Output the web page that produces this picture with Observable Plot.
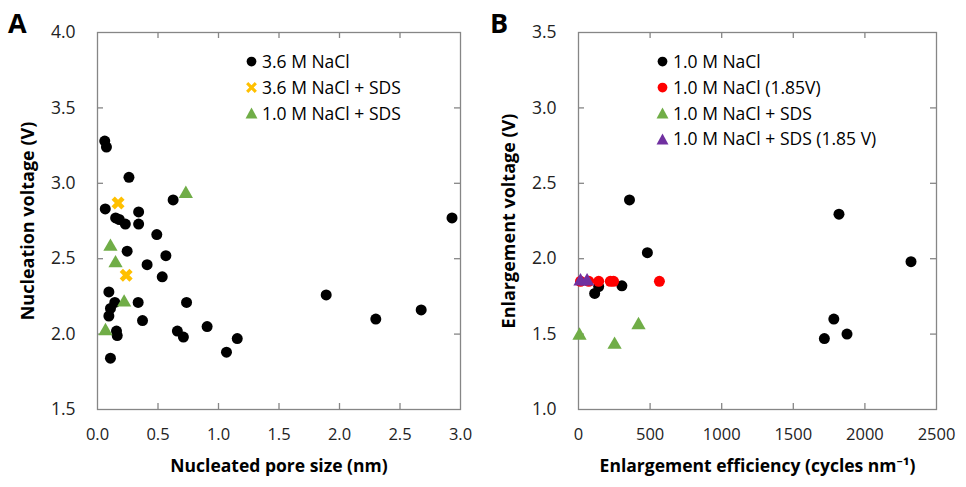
<!DOCTYPE html>
<html>
<head>
<meta charset="utf-8">
<script src="https://cdn.jsdelivr.net/npm/d3@7"></script>
<script src="https://cdn.jsdelivr.net/npm/@observablehq/plot@0.6"></script>
<style>
  body { margin: 0; background: #fff; }
  #wrap { position: relative; width: 966px; height: 487px; font-family: "Open Sans", "Noto Sans", sans-serif; }
  .panel { position: absolute; top: 0; }
  .plabel { position: absolute; top: 4px; font: bold 27px "Open Sans", sans-serif; color: #000; }
  .legend { position: absolute; font-size: 17.5px; color: #000; line-height: 25.8px; }
  .legend div { display: flex; align-items: center; white-space: nowrap; }
  .legend svg { width: 13px; height: 13px; margin-right: 4px; }
</style>
</head>
<body>
<div id="wrap"></div>
<script>
// ---------- Panel A data ----------
const aNaClX = [0.06,0.074,0.26,0.625,0.064,0.34,0.15,0.18,0.23,0.34,0.49,0.245,0.565,0.41,0.535,0.094,0.143,0.336,0.736,0.107,0.094,0.372,0.157,0.163,0.66,0.71,0.906,1.066,0.107,1.155,1.89,2.30,2.675,2.93];
const aNaClY = [3.28,3.24,3.04,2.89,2.83,2.81,2.77,2.76,2.73,2.73,2.66,2.55,2.52,2.46,2.38,2.28,2.21,2.21,2.21,2.17,2.12,2.09,2.02,1.99,2.02,1.98,2.05,1.88,1.84,1.97,2.26,2.10,2.16,2.77];
const aSdsX = [0.17,0.237];
const aSdsY = [2.87,2.39];
const aLowX = [0.73,0.107,0.149,0.22,0.066];
const aLowY = [2.93,2.58,2.47,2.21,2.02];
const aXTicks = [0,0.5,1,1.5,2,2.5,3];
const aYTicks = [1.5,2,2.5,3,3.5,4];

// ---------- Panel B data ----------
const bNaClX = [356,481,303,113,141,1819,2322,1783,1717,1875];
const bNaClY = [2.39,2.04,1.82,1.77,1.815,2.295,1.98,1.60,1.47,1.50];
const bNaCl185X = [14,72,141,222,245,565];
const bNaCl185Y = [1.85,1.85,1.85,1.85,1.85,1.85];
const bSdsX = [7,252,419];
const bSdsY = [1.49,1.43,1.56];
const bSds185X = [14,60];
const bSds185Y = [1.85,1.85];
const bXTicks = [0,500,1000,1500,2000,2500];
const bYTicks = [1,1.5,2,2.5,3,3.5];

const legendA = ["3.6 M NaCl","3.6 M NaCl + SDS","1.0 M NaCl + SDS"];
const legendB = ["1.0 M NaCl","1.0 M NaCl (1.85V)","1.0 M NaCl + SDS","1.0 M NaCl + SDS (1.85 V)"];

const BLACK = "#000000", ORANGE = "#FFC000", GREEN = "#70AD47", RED = "#FF0000", PURPLE = "#7030A0";
const FRAME = "#868686";
const zip = (xs, ys) => xs.map((x, i) => ({x, y: ys[i]}));

function panel({xDomain, yDomain, xTicks, yTicks, xFormat, series, xLabel, yLabel, mLeft, mRight}) {
  const W = 483, H = 487, mTop = 32, mBottom = 78;
  const innerH = H - mTop - mBottom, innerW = W - mLeft - mRight;
  const tickLen = 6;
  const innerX = xTicks.slice(1, -1), innerY = yTicks.slice(1, -1);
  const marks = [
    Plot.frame({stroke: FRAME, strokeWidth: 1.3}),
    // inward ticks bottom & top
    Plot.tickX(innerX, {x: d => d, stroke: FRAME, strokeWidth: 1.3, insetTop: innerH - tickLen}),
    Plot.tickX(innerX, {x: d => d, stroke: FRAME, strokeWidth: 1.3, insetBottom: innerH - tickLen}),
    // inward ticks left & right
    Plot.tickY(innerY, {y: d => d, stroke: FRAME, strokeWidth: 1.3, insetRight: innerW - tickLen}),
    Plot.tickY(innerY, {y: d => d, stroke: FRAME, strokeWidth: 1.3, insetLeft: innerW - tickLen}),
    Plot.axisX(xTicks, {tickSize: 0, tickPadding: 19, tickFormat: xFormat, fontSize: 16.5, fill: "#222", label: null}),
    Plot.axisY(yTicks, {tickSize: 0, tickPadding: 22, tickFormat: d => d.toFixed(1), fontSize: 17.5, fill: "#222", label: null}),
    Plot.text([xLabel], {frameAnchor: "bottom", dy: 62, fontSize: 17.5, fontWeight: "bold"}),
    Plot.text([yLabel], {frameAnchor: "left", textAnchor: "middle", dx: -69, rotate: -90, fontSize: 18, fontWeight: "bold"})
  ];
  for (const s of series) {
    marks.push(Plot.dot(s.data, {x: "x", y: "y", fill: s.color, symbol: s.symbol, r: s.r, rotate: s.rotate || 0, stroke: "none"}));
  }
  return Plot.plot({
    width: W, height: H,
    marginLeft: mLeft, marginRight: mRight, marginTop: mTop, marginBottom: mBottom,
    style: {fontFamily: "'Open Sans', 'Noto Sans', sans-serif", background: "transparent", overflow: "visible"},
    x: {domain: xDomain},
    y: {domain: yDomain},
    marks
  });
}

const wrap = document.getElementById("wrap");

const plotA = panel({
  xDomain: [0, 3], yDomain: [1.5, 4], xTicks: aXTicks, yTicks: aYTicks,
  xFormat: d => d.toFixed(1),
  series: [
    {data: zip(aNaClX, aNaClY), color: BLACK, symbol: "circle", r: 5.5},
    {data: zip(aSdsX, aSdsY), color: ORANGE, symbol: "cross", r: 5.8, rotate: 45},
    {data: zip(aLowX, aLowY), color: GREEN, symbol: "triangle", r: 5.3}
  ],
  xLabel: "Nucleated pore size (nm)", yLabel: "Nucleation voltage (V)",
  mLeft: 97, mRight: 23
});
plotA.classList.add("panel"); plotA.style.left = "0px";
wrap.appendChild(plotA);

const plotB = panel({
  xDomain: [0, 2500], yDomain: [1, 3.5], xTicks: bXTicks, yTicks: bYTicks,
  xFormat: d => String(d),
  series: [
    {data: zip(bNaClX, bNaClY), color: BLACK, symbol: "circle", r: 5.5},
    {data: zip(bNaCl185X, bNaCl185Y), color: RED, symbol: "circle", r: 5.5},
    {data: zip(bSdsX, bSdsY), color: GREEN, symbol: "triangle", r: 5.3},
    {data: zip(bSds185X, bSds185Y), color: PURPLE, symbol: "triangle", r: 5.3}
  ],
  xLabel: "Enlargement efficiency (cycles nm\u207B\u00B9)", yLabel: "Enlargement voltage (V)",
  mLeft: 95, mRight: 30
});
plotB.classList.add("panel"); plotB.style.left = "483px";
wrap.appendChild(plotB);

// panel letters
for (const [t, l] of [["A", 8], ["B", 490]]) {
  const d = document.createElement("div");
  d.className = "plabel"; d.textContent = t; d.style.left = l + "px";
  wrap.appendChild(d);
}

// legends
const sym = {
  circle: c => `<svg viewBox="-6 -6 12 12"><circle r="4.5" fill="${c}"/></svg>`,
  triangle: c => `<svg viewBox="-6 -6 12 12"><path d="M0,-5.5L5.5,4.5L-5.5,4.5Z" fill="${c}"/></svg>`,
  cross: c => `<svg viewBox="-6 -6 12 12"><path d="M-5,-3L-3,-5L0,-2L3,-5L5,-3L2,0L5,3L3,5L0,2L-3,5L-5,3L-2,0Z" fill="${c}"/></svg>`
};
function legend(items, left, top) {
  const el = document.createElement("div");
  el.className = "legend";
  el.style.left = left + "px"; el.style.top = top + "px";
  el.innerHTML = items.map(([label, s, c]) => `<div>${sym[s](c)}<span>${label}</span></div>`).join("");
  wrap.appendChild(el);
}
legend([[legendA[0], "circle", BLACK], [legendA[1], "cross", ORANGE], [legendA[2], "triangle", GREEN]], 245, 49);
legend([[legendB[0], "circle", BLACK], [legendB[1], "circle", RED], [legendB[2], "triangle", GREEN], [legendB[3], "triangle", PURPLE]], 656, 49);
</script>
</body>
</html>
